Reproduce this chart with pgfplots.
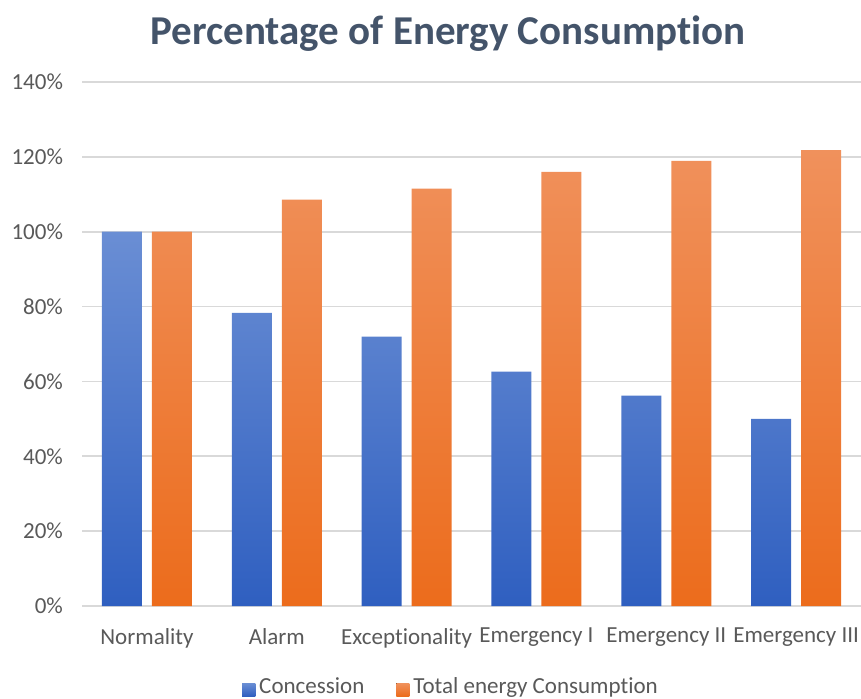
\documentclass[border=0pt]{standalone}
\usepackage{fontspec}
\setmainfont{Carlito}[Ligatures=NoCommon]
\usepackage{pgfplots}
\pgfplotsset{compat=1.18}
\usetikzlibrary{calc}

\definecolor{titlecol}{HTML}{44546A}
\definecolor{txtcol}{HTML}{595959}
\definecolor{gridcol}{HTML}{D9D9D9}
\definecolor{bluetop}{HTML}{6A8ED4}
\definecolor{bluebot}{HTML}{2F5FC0}
\definecolor{orgtop}{HTML}{F0915C}
\definecolor{orgbot}{HTML}{EC6C1C}

\begin{document}
\begin{tikzpicture}
\begin{axis}[
    scale only axis,
    width=389.5pt, height=262pt,
    clip=false,
    ybar=5pt, bar width=20pt,
    xmin=-0.5, xmax=5.5,
    ymin=0, ymax=140,
    xtick={0,1,2,3,4,5},
    xticklabels={Normality,Alarm,Exceptionality,Emergency I,Emergency II,Emergency III},
    ytick={0,20,40,60,80,100,120,140},
    yticklabel={\pgfmathprintnumber{\tick}\%},
    /pgf/number format/assume math mode=true,
    ymajorgrids, grid style={gridcol, line width=0.8pt},
    axis x line*=bottom, axis y line*=left,
    x axis line style={gridcol, line width=0.8pt},
    y axis line style={draw=none},
    major tick length=0pt,
    tick label style={font=\fontsize{11.5}{13}\selectfont, text=txtcol},
    xticklabel style={yshift=-7.5pt},
    yticklabel style={xshift=-6pt},
    legend columns=2,
    legend style={at={(0.475,-0.155)}, anchor=center, draw=none,
      font=\fontsize{11.5}{13}\selectfont, text=txtcol,
      /tikz/every even column/.append style={column sep=14pt}},
    legend image code/.code={\fill[#1] (0pt,-4.5pt) rectangle (6.5pt,2pt);},
]
\addplot[draw=none, top color=bluetop, bottom color=bluebot]
  coordinates {(0,100) (1,78.3) (2,72.0) (3,62.6) (4,56.2) (5,50.0)};
\addlegendentry{Concession}
\addplot[draw=none, top color=orgtop, bottom color=orgbot]
  coordinates {(0,100) (1,108.6) (2,111.5) (3,116.0) (4,118.9) (5,121.8)};
\addlegendentry{Total energy Consumption}
\node[font=\bfseries\fontsize{20.5}{23}\selectfont, text=titlecol]
  at (axis description cs:0.47,1.093) {Percentage of Energy Consumption};
\end{axis}
\pgfresetboundingbox
\path[use as bounding box] ($(current axis.south west)+(-41pt,-46pt)$) rectangle ($(current axis.north east)+(0pt,41pt)$);
\end{tikzpicture}
\end{document}
